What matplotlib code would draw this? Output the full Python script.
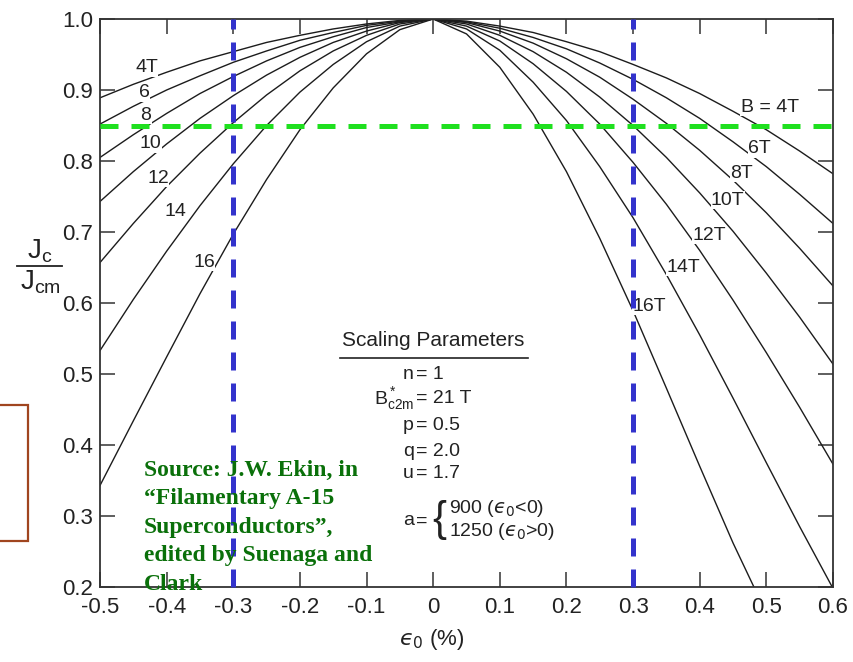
import numpy as np
import matplotlib.pyplot as plt
from matplotlib.patches import Rectangle
from matplotlib.lines import Line2D

plt.rcParams['font.family'] = ['Liberation Sans', 'DejaVu Sans']
plt.rcParams['axes.unicode_minus'] = False
plt.rcParams['mathtext.fontset'] = 'custom'
plt.rcParams['mathtext.rm'] = 'Liberation Sans'
plt.rcParams['mathtext.it'] = 'Liberation Sans'

# strain in %, one point every 0.05
strain = [-0.5, -0.45, -0.4, -0.35, -0.3, -0.25, -0.2, -0.15, -0.1, -0.05, 0.0,
          0.05, 0.1, 0.15, 0.2, 0.25, 0.3, 0.35, 0.4, 0.45, 0.5, 0.55, 0.6]

# Jc/Jcm
jc_4T = [0.889, 0.908, 0.925, 0.941, 0.954, 0.967, 0.977, 0.986, 0.993, 0.998, 1.0,
         0.997, 0.990, 0.981, 0.968, 0.954, 0.936, 0.917, 0.895, 0.870, 0.844, 0.814, 0.782]
jc_6T = [0.852, 0.877, 0.900, 0.920, 0.939, 0.955, 0.970, 0.981, 0.991, 0.997, 1.0,
         0.996, 0.987, 0.974, 0.958, 0.938, 0.915, 0.889, 0.860, 0.827, 0.792, 0.753, 0.712]
jc_8T = [0.805, 0.837, 0.867, 0.895, 0.919, 0.941, 0.960, 0.975, 0.988, 0.996, 1.0,
         0.995, 0.983, 0.966, 0.944, 0.918, 0.887, 0.853, 0.815, 0.773, 0.727, 0.677, 0.624]
jc_10T = [0.743, 0.785, 0.824, 0.860, 0.892, 0.921, 0.946, 0.967, 0.983, 0.995, 1.0,
          0.993, 0.977, 0.954, 0.925, 0.890, 0.850, 0.805, 0.755, 0.701, 0.642, 0.580, 0.514]
jc_12T = [0.657, 0.712, 0.764, 0.811, 0.854, 0.893, 0.927, 0.955, 0.977, 0.993, 1.0,
          0.990, 0.969, 0.937, 0.898, 0.852, 0.798, 0.739, 0.674, 0.604, 0.530, 0.453, 0.373]
jc_14T = [0.533, 0.605, 0.673, 0.737, 0.796, 0.850, 0.897, 0.936, 0.968, 0.990, 1.0,
          0.986, 0.956, 0.911, 0.857, 0.792, 0.720, 0.640, 0.555, 0.466, 0.375, 0.285, 0.198]
jc_16T = [0.343, 0.434, 0.524, 0.613, 0.697, 0.774, 0.844, 0.903, 0.951, 0.985, 1.0,
          0.979, 0.932, 0.866, 0.785, 0.691, 0.589, 0.480, 0.370, 0.262, 0.163, np.nan, np.nan]
curves = [jc_4T, jc_6T, jc_8T, jc_10T, jc_12T, jc_14T, jc_16T]

left_labels = ['4T', '6', '8', '10', '12', '14', '16']
right_labels = ['B = 4T', '6T', '8T', '10T', '12T', '14T', '16T']

x_ticks = [-0.5, -0.4, -0.3, -0.2, -0.1, 0.0, 0.1, 0.2, 0.3, 0.4, 0.5, 0.6]
x_ticklabels = ['-0.5', '-0.4', '-0.3', '-0.2', '-0.1', '0', '0.1', '0.2', '0.3', '0.4', '0.5', '0.6']
y_ticks = [0.2, 0.3, 0.4, 0.5, 0.6, 0.7, 0.8, 0.9, 1.0]
y_ticklabels = ['0.2', '0.3', '0.4', '0.5', '0.6', '0.7', '0.8', '0.9', '1.0']

strain_marks = [-0.3, 0.3]   # blue markers
jc_mark = 0.85               # green marker

source_lines = ['Source: J.W. Ekin, in', '\u201cFilamentary A-15', 'Superconductors\u201d,',
                'edited by Suenaga and', 'Clark']

W, H = 854, 662
def fx(px):
    return px / W
def fy(py):
    return 1 - py / H

ink = '#222222'
eps = '$\u03f5_0$'

fig = plt.figure(figsize=(8.54, 6.62), dpi=100)
ax = fig.add_axes([fx(100), fy(587), fx(833) - fx(100), fy(19) - fy(587)])

for jc in curves:
    ax.plot(strain, jc, color='#1c1c1c', lw=1.0, zorder=2)

ax.set_xlim(-0.5, 0.6)
ax.set_ylim(0.2, 1.0)
ax.set_xticks(x_ticks)
ax.set_xticklabels(x_ticklabels)
ax.set_yticks(y_ticks)
ax.set_yticklabels(y_ticklabels)
ax.tick_params(direction='in', length=11, width=1.1, top=True, right=True,
               labelsize=16, color='#333333', labelcolor=ink)
ax.tick_params(axis='x', pad=7)
ax.tick_params(axis='y', pad=5)
for s in ax.spines.values():
    s.set_linewidth(1.3)
    s.set_color('#333333')

# curve labels
left_pos = [(-0.43, 0.931), (-0.434, 0.896), (-0.431, 0.864), (-0.424, 0.824),
            (-0.413, 0.776), (-0.387, 0.729), (-0.344, 0.657)]
right_pos = [(0.505, 0.876), (0.49, 0.817), (0.463, 0.782), (0.442, 0.745),
             (0.414, 0.695), (0.375, 0.650), (0.324, 0.595)]
for lab, (x, y) in zip(left_labels, left_pos):
    ax.text(x, y, lab, fontsize=14, ha='center', va='center', color=ink,
            bbox=dict(fc='white', ec='none', pad=0.2))
for lab, (x, y) in zip(right_labels, right_pos):
    ax.text(x, y, lab, fontsize=14, ha='center', va='center', color=ink,
            bbox=dict(fc='white', ec='none', pad=0.2))

# scaling parameters block
fs = 14
ax.text(0.0, 0.547, 'Scaling Parameters', fontsize=15, ha='center', va='center', color=ink)
ax.plot([-0.14, 0.142], [0.522, 0.522], color=ink, lw=1.2)
xe = -0.026
params = [('n', '= 1', 0.499), (r'$\mathregular{B^*_{c2m}}$', '= 21 T', 0.466),
          ('p', '= 0.5', 0.428), ('q', '= 2.0', 0.391), ('u', '= 1.7', 0.360)]
for lhs, rhs, y in params:
    ax.text(xe - 0.003, y, lhs, fontsize=fs, ha='right', va='center', color=ink)
    ax.text(xe, y, rhs, fontsize=fs, ha='left', va='center', color=ink)
ax.text(xe - 0.003, 0.293, 'a', fontsize=fs, ha='right', va='center', color=ink)
ax.text(xe, 0.293, '=', fontsize=fs, ha='left', va='center', color=ink)
ax.text(0.009, 0.295, '{', fontsize=30, ha='center', va='center', color=ink)
ax.text(0.024, 0.311, '900 (' + eps + '<0)', fontsize=fs, ha='left', va='center',
        color=ink, math_fontfamily='dejavusans')
ax.text(0.024, 0.278, '1250 (' + eps + '>0)', fontsize=fs, ha='left', va='center',
        color=ink, math_fontfamily='dejavusans')

# source note
for i, line in enumerate(source_lines):
    fig.text(fx(144), fy(470 + 28.6 * i), line, fontsize=17, fontweight='bold',
             family='Liberation Serif', color='#0a700a', ha='left', va='center', zorder=5)

# marker lines
ax.plot([-0.5, 0.615], [jc_mark, jc_mark], color='#1fe01f', lw=3.6,
        ls=(0, (3.6, 2.6)), clip_on=False, zorder=6)
for xm in strain_marks:
    ax.plot([xm, xm], [0.2, 1.0], color='#3333cc', lw=3.6,
            ls=(0, (3.6, 2.6)), clip_on=False, zorder=7)

# axis titles
fig.text(fx(40), fy(251), r'$\mathregular{J_c}$', fontsize=20, ha='center', va='center', color=ink)
fig.add_artist(Line2D([fx(17), fx(62)], [fy(266), fy(266)], color=ink, lw=1.3))
fig.text(fx(40), fy(282), r'$\mathregular{J_{cm}}$', fontsize=20, ha='center', va='center', color=ink)
fig.text(fx(432), fy(640), eps + ' (%)', fontsize=16, ha='center', va='center', color=ink,
         math_fontfamily='dejavusans')

# brown box at left edge
fig.patches.append(Rectangle((fx(-10), fy(541)), fx(38), fy(405) - fy(541), fill=False,
                             ec='#a0451f', lw=1.6, transform=fig.transFigure))

fig.savefig('out.png', dpi=100, facecolor='white')
